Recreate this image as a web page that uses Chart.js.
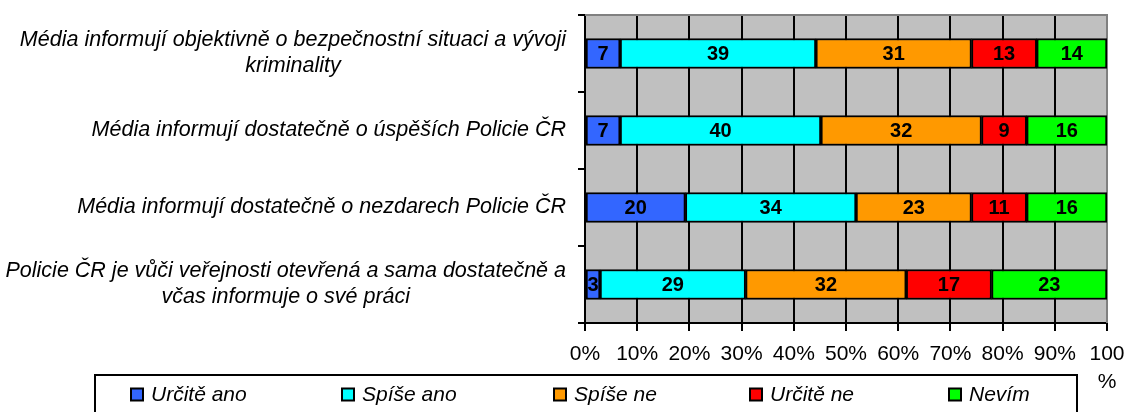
<!DOCTYPE html>
<html>
<head>
<meta charset="UTF-8">
<title>Média a Policie ČR</title>
<script src="https://cdn.jsdelivr.net/npm/chart.js"></script>
<style>
  body { margin: 0; background: #fff; }
  #wrap { width: 1125px; height: 412px; }
</style>
</head>
<body>
<div id="wrap"><canvas id="myChart" width="1125" height="412"></canvas></div>
<script>
// categories (each label split into its lines)
const categories = [
  ['Média informují objektivně o bezpečnostní situaci a vývoji', 'kriminality'],
  ['Média informují dostatečně o úspěších Policie ČR'],
  ['Média informují dostatečně o nezdarech Policie ČR'],
  ['Policie ČR je vůči veřejnosti otevřená a sama dostatečně a', 'včas informuje o své práci']
];
const seriesNames = ['Určitě ano', 'Spíše ano', 'Spíše ne', 'Určitě ne', 'Nevím'];
const seriesColors = ['#3366FF', '#00FFFF', '#FF9900', '#FF0000', '#00FF00'];

// values
const urciteAno = [7, 7, 20, 3];
const spiseAno = [39, 40, 34, 29];
const spiseNe = [31, 32, 23, 32];
const urciteNe = [13, 9, 11, 17];
const nevim = [14, 16, 16, 23];

const xTicks = [0, 10, 20, 30, 40, 50, 60, 70, 80, 90, 100];

const FONT = "'Liberation Sans', Arial, sans-serif";
const series = [urciteAno, spiseAno, spiseNe, urciteNe, nevim];
// 100% stacked: each row is shown as share of its total
const rowSums = categories.map((_, i) => series.reduce((s, arr) => s + arr[i], 0));

const datasets = series.map((arr, k) => ({
  label: seriesNames[k],
  raw: arr,
  data: arr.map((v, i) => v / rowSums[i] * 100),
  backgroundColor: seriesColors[k],
  borderColor: '#000',
  borderWidth: 2,
  borderSkipped: false,
  barThickness: 30
}));

const plotBg = {
  id: 'plotBg',
  beforeDraw(chart) {
    const a = chart.chartArea, c = chart.ctx;
    c.save();
    c.fillStyle = '#C0C0C0';
    c.fillRect(a.left, a.top, a.right - a.left, a.bottom - a.top);
    c.restore();
  },
  beforeDatasetsDraw(chart) {
    const a = chart.chartArea, c = chart.ctx;
    c.save();
    c.strokeStyle = '#808080';
    c.lineWidth = 2;
    c.beginPath();
    c.moveTo(a.left, a.top);
    c.lineTo(a.right, a.top);
    c.lineTo(a.right, a.bottom);
    c.stroke();
    c.restore();
  }
};

const valueLabels = {
  id: 'valueLabels',
  afterDatasetsDraw(chart) {
    const c = chart.ctx;
    c.save();
    c.font = 'bold 20px ' + FONT;
    c.fillStyle = '#000';
    c.textAlign = 'center';
    c.textBaseline = 'middle';
    chart.data.datasets.forEach((ds, k) => {
      chart.getDatasetMeta(k).data.forEach((el, i) => {
        c.fillText(String(ds.raw[i]), (el.x + el.base) / 2, el.y + 1);
      });
    });
    c.restore();
  }
};

const catLabels = {
  id: 'catLabels',
  afterDraw(chart) {
    const c = chart.ctx, y = chart.scales.y;
    c.save();
    c.font = 'italic 21.5px ' + FONT;
    c.fillStyle = '#000';
    c.textAlign = 'center';
    c.textBaseline = 'middle';
    const right = 566, lh = 26;
    categories.forEach((lines, i) => {
      const cy = y.getPixelForValue(i);
      const w = Math.max(...lines.map(l => c.measureText(l).width));
      const cx = right - w / 2;
      lines.forEach((l, j) => {
        c.fillText(l, cx, cy + (j - (lines.length - 1) / 2) * lh);
      });
    });
    c.restore();
  }
};

const boxLegend = {
  id: 'boxLegend',
  afterDraw(chart) {
    const c = chart.ctx;
    const xs = [131, 342, 554, 750, 949];
    c.save();
    c.strokeStyle = '#000';
    c.lineWidth = 2;
    c.strokeRect(95, 375, 982, 60);
    c.font = 'italic 21px ' + FONT;
    c.textBaseline = 'middle';
    c.textAlign = 'left';
    chart.data.datasets.forEach((ds, k) => {
      const x = xs[k];
      c.fillStyle = ds.backgroundColor;
      c.fillRect(x, 388.5, 12, 12);
      c.lineWidth = 2;
      c.strokeRect(x, 388.5, 12, 12);
      c.fillStyle = '#000';
      c.fillText(ds.label, x + 20, 395);
    });
    c.restore();
  }
};

new Chart(document.getElementById('myChart'), {
  type: 'bar',
  data: { labels: categories.map(l => l.join(' ')), datasets: datasets },
  options: {
    indexAxis: 'y',
    responsive: false,
    animation: false,
    layout: { padding: { top: 15, right: 18, left: 0, bottom: 0 } },
    plugins: { legend: { display: false }, tooltip: { enabled: false } },
    scales: {
      x: {
        stacked: true,
        min: 0,
        max: 100,
        afterBuildTicks(s) { s.ticks = xTicks.map(v => ({ value: v })); },
        afterFit(s) { s.height = 89; s.paddingRight = 0; s.paddingLeft = 0; },
        ticks: {
          color: '#000',
          padding: 10,
          maxRotation: 0,
          font: { family: FONT, size: 21, lineHeight: 1.3 },
          callback: v => v === 100 ? ['100', '%'] : v + '%'
        },
        grid: {
          color: c => c.tick && c.tick.value === 100 ? '#808080' : '#000',
          tickColor: '#000',
          lineWidth: 2,
          tickLength: 8
        },
        border: { display: true, color: '#000', width: 2 }
      },
      y: {
        stacked: true,
        afterFit(s) { s.width = 585; },
        ticks: { display: false },
        grid: {
          offset: true,
          drawOnChartArea: false,
          color: '#000',
          lineWidth: 2,
          tickLength: 7
        },
        border: { display: true, color: '#000', width: 2 }
      }
    }
  },
  plugins: [plotBg, valueLabels, catLabels, boxLegend]
});
</script>
</body>
</html>
